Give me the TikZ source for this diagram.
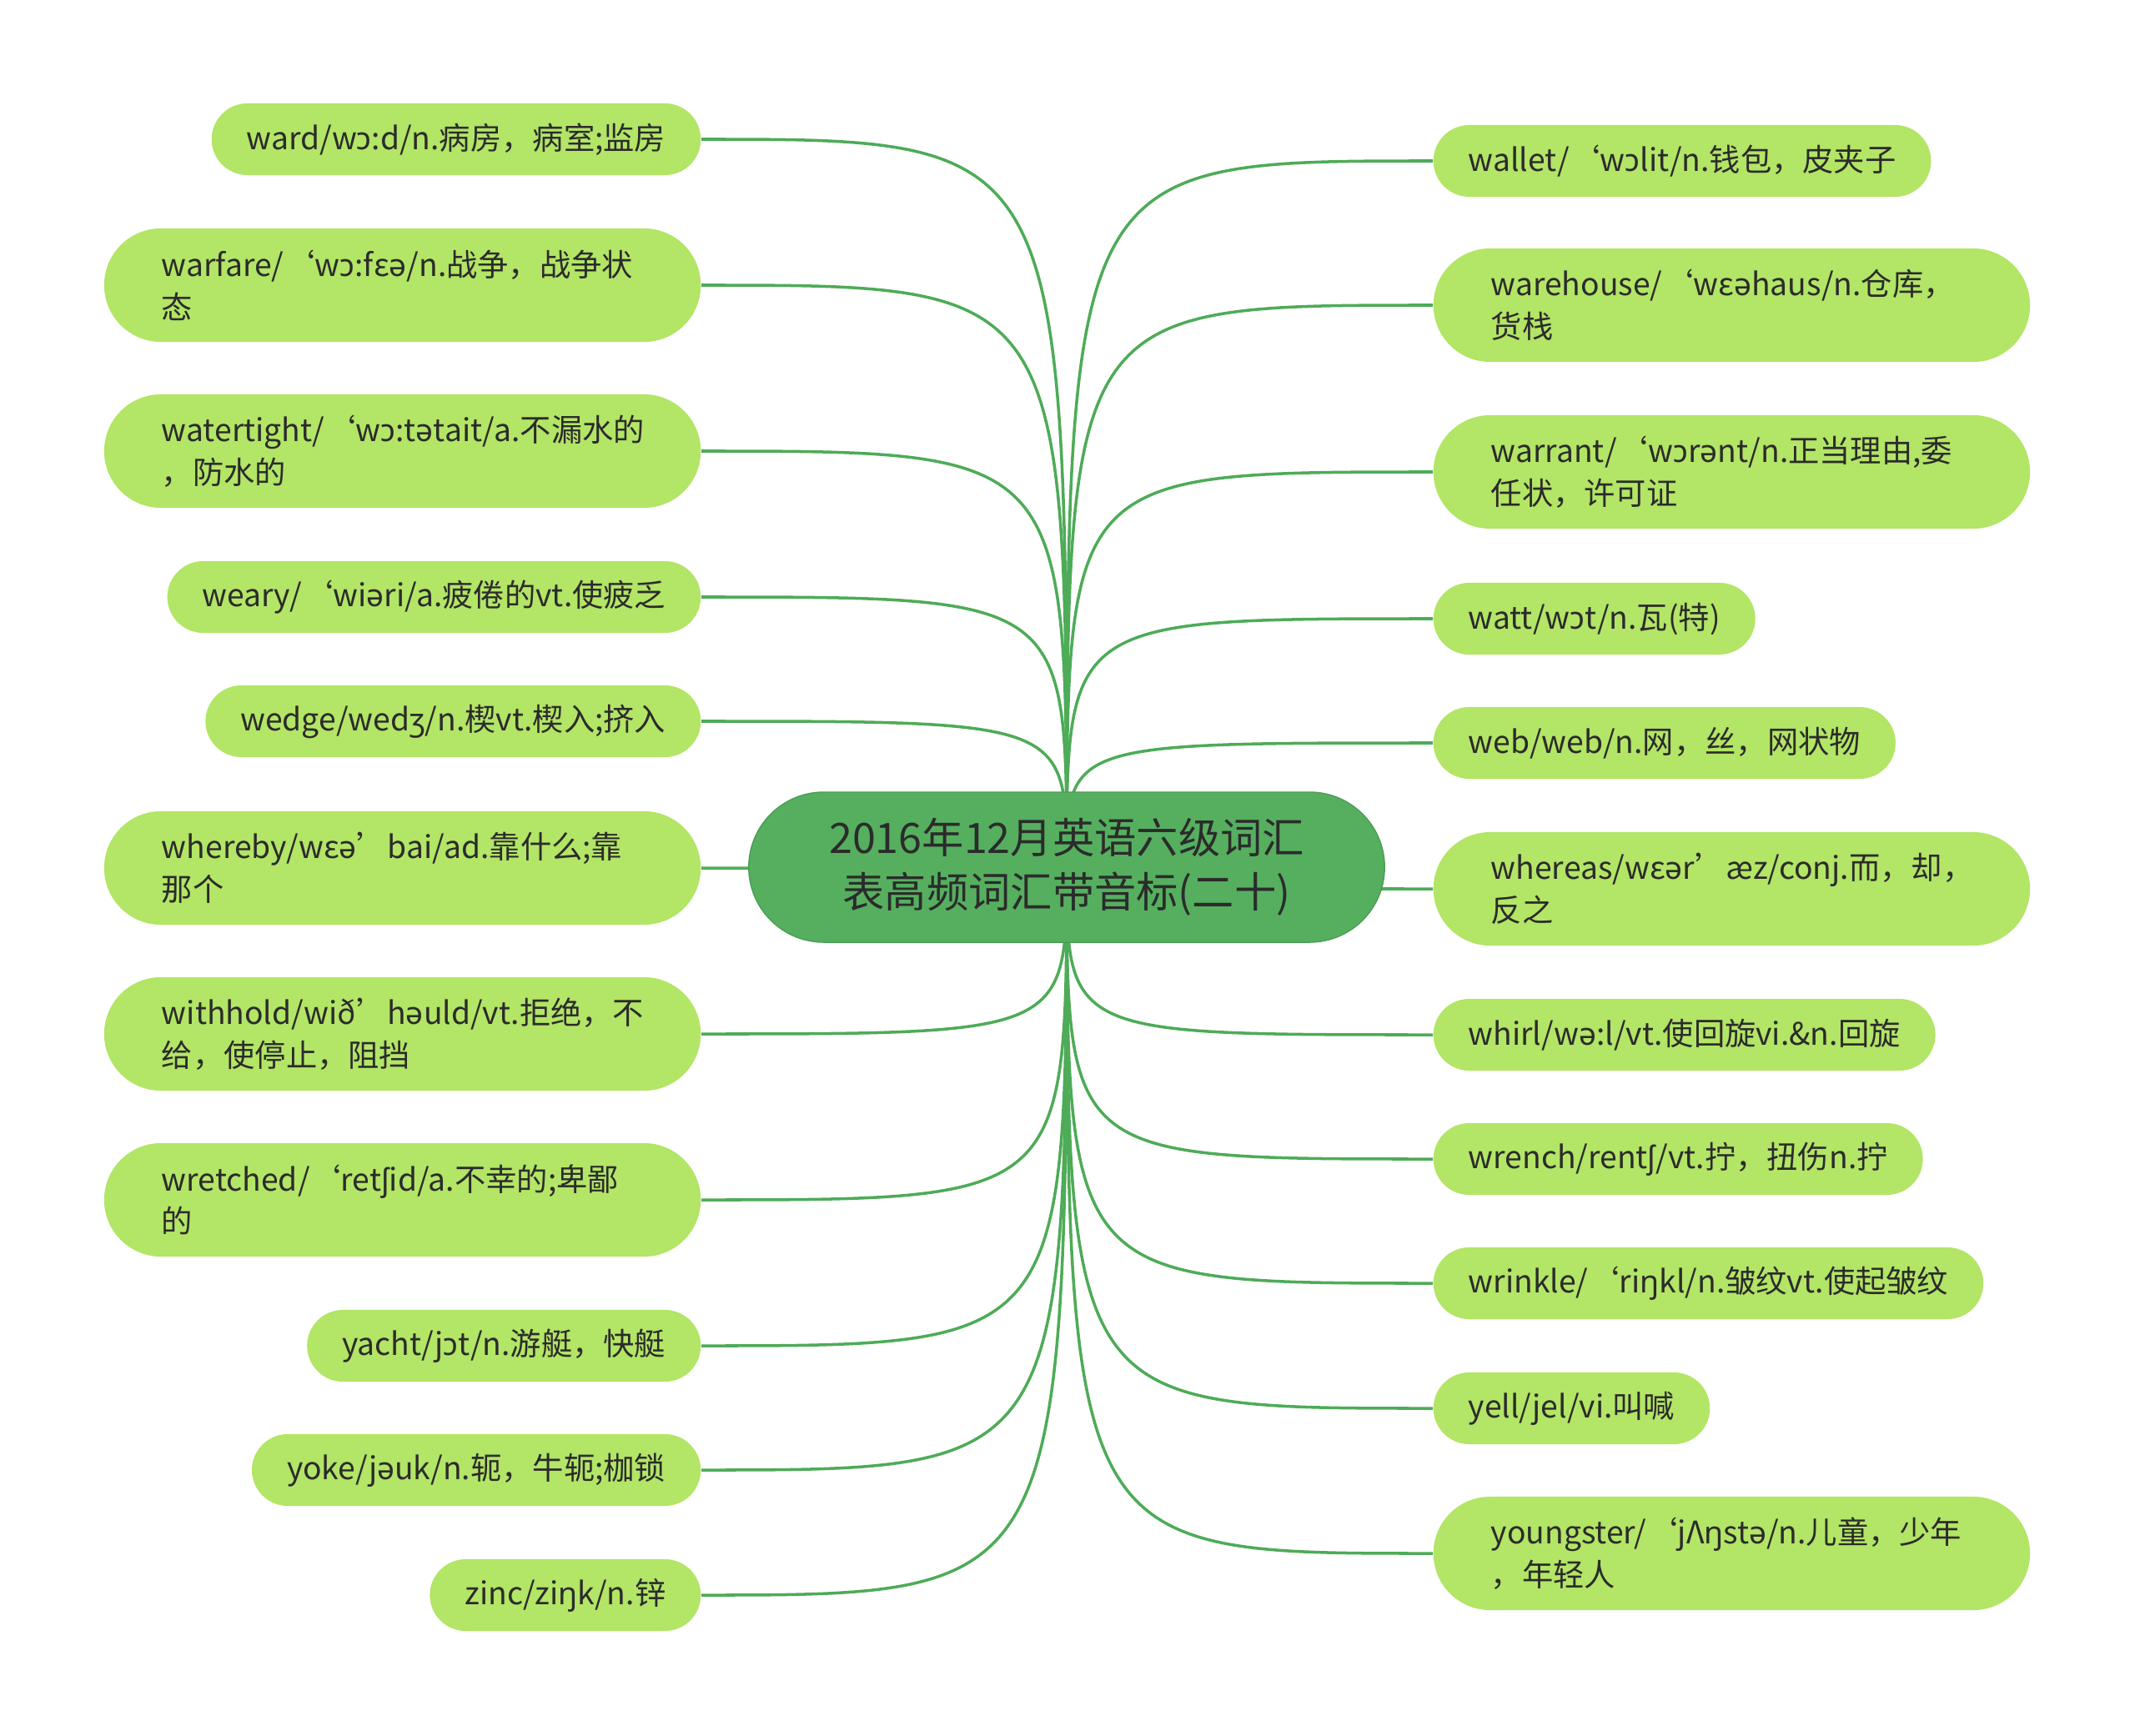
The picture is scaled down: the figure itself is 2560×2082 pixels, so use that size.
\documentclass[tikz,border=0pt]{standalone}
\usepackage{fontspec}
\setmainfont{Noto Sans CJK SC}
\newfontfamily\ipafont{Noto Sans}
\newcommand{\ipa}[1]{{\ipafont #1}}
\usepackage{tikz}
\usetikzlibrary{backgrounds}
\definecolor{rootfill}{HTML}{55AF5F}
\definecolor{leaffill}{HTML}{B3E566}
\definecolor{linkgreen}{HTML}{4EAB58}
\definecolor{inktext}{HTML}{2B2B2B}

\begin{document}
\begin{tikzpicture}[x=0.01cm, y=-0.01cm,
        root/.style={fill=rootfill, draw=rootfill!90!black, line width=0.4pt, rounded corners=0.9cm, minimum width=7.62cm, minimum height=1.8cm, align=center, text=inktext, font=\fontsize{14.3pt}{18.5pt}\selectfont},
        leaf/.style={fill=leaffill, rounded corners=0.43cm, minimum height=0.86cm, inner xsep=0.42cm, inner ysep=2pt, text=inktext, font=\fontsize{10.6pt}{14.4pt}\selectfont},
        leaftwo/.style={leaf, rounded corners=0.68cm, minimum height=1.36cm, text width=5.77cm, inner xsep=0.69cm, align=left},
        link/.style={draw=linkgreen, line width=1pt}]
        \useasboundingbox (0,0) rectangle (2560,2082);
        \node[root] (root) at (1279,1040) {2016年12月英语六级词汇\\表高频词汇带音标(二十)};

        \node[leaf, anchor=east] (ward) at (841,167) {ward/w\ipa{ɔ}:d/n.病房，病室;监房};
        \node[leaftwo, anchor=east] (warfare) at (841,342) {warfare/‘w\ipa{ɔ}:fε\ipa{ə}/n.战争，战争状\\态};
        \node[leaftwo, anchor=east] (watertight) at (841,541) {watertight/‘w\ipa{ɔ}:t\ipa{ə}tait/a.不漏水的\\，防水的};
        \node[leaf, anchor=east] (weary) at (841,716) {weary/‘wi\ipa{ə}ri/a.疲倦的vt.使疲乏};
        \node[leaf, anchor=east] (wedge) at (841,865) {wedge/wed\ipa{ʒ}/n.楔vt.楔入;挤入};
        \node[leaftwo, anchor=east] (whereby) at (841,1041) {whereby/wε\ipa{ə}’bai/ad.靠什么;靠\\那个};
        \node[leaftwo, anchor=east] (withhold) at (841,1240) {withhold/wið’h\ipa{ə}uld/vt.拒绝，不\\给，使停止，阻挡};
        \node[leaftwo, anchor=east] (wretched) at (841,1439) {wretched/‘ret\ipa{ʃ}id/a.不幸的;卑鄙\\的};
        \node[leaf, anchor=east] (yacht) at (841,1614) {yacht/j\ipa{ɔ}t/n.游艇，快艇};
        \node[leaf, anchor=east] (yoke) at (841,1763) {yoke/j\ipa{ə}uk/n.轭，牛轭;枷锁};
        \node[leaf, anchor=east] (zinc) at (841,1913) {zinc/zi\ipa{ŋ}k/n.锌};

        \node[leaf, anchor=west] (wallet) at (1718,193) {wallet/‘w\ipa{ɔ}lit/n.钱包，皮夹子};
        \node[leaftwo, anchor=west] (warehouse) at (1718,366) {warehouse/‘wε\ipa{ə}haus/n.仓库，\\货栈};
        \node[leaftwo, anchor=west] (warrant) at (1718,566) {warrant/‘w\ipa{ɔ}r\ipa{ə}nt/n.正当理由,委\\任状，许可证};
        \node[leaf, anchor=west] (watt) at (1718,742) {watt/w\ipa{ɔ}t/n.瓦(特)};
        \node[leaf, anchor=west] (web) at (1718,891) {web/web/n.网，丝，网状物};
        \node[leaftwo, anchor=west] (whereas) at (1718,1066) {whereas/wε\ipa{ə}r’æz/conj.而，却，\\反之};
        \node[leaf, anchor=west] (whirl) at (1718,1241) {whirl/w\ipa{ə}:l/vt.使回旋vi.\&n.回旋};
        \node[leaf, anchor=west] (wrench) at (1718,1390) {wrench/rent\ipa{ʃ}/vt.拧，扭伤n.拧};
        \node[leaf, anchor=west] (wrinkle) at (1718,1539) {wrinkle/‘ri\ipa{ŋ}kl/n.皱纹vt.使起皱纹};
        \node[leaf, anchor=west] (yell) at (1718,1689) {yell/jel/vi.叫喊};
        \node[leaftwo, anchor=west] (youngster) at (1718,1863) {youngster/‘jΛ\ipa{ŋ}st\ipa{ə}/n.儿童，少年\\，年轻人};

        \begin{scope}[on background layer]
            \foreach \leafname in {ward,warfare,watertight,weary,wedge,whereby,withhold,wretched,yacht,yoke,zinc}
                \draw[link] (root.center) .. controls (root.center |- \leafname.east) .. (\leafname.east);
            \foreach \leafname in {wallet,warehouse,warrant,watt,web,whereas,whirl,wrench,wrinkle,yell,youngster}
                \draw[link] (root.center) .. controls (root.center |- \leafname.west) .. (\leafname.west);
        \end{scope}
    \end{tikzpicture}
\end{document}
